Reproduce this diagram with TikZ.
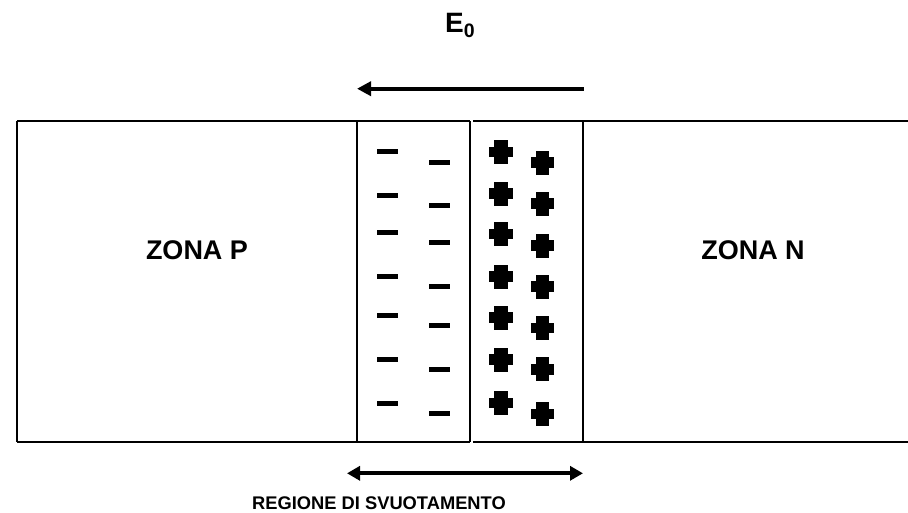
\documentclass[tikz,border=0pt]{standalone}
\usepackage{fontspec}
\setmainfont{Liberation Sans}
\usetikzlibrary{arrows.meta}
\tikzset{
  frameline/.style={line width=2pt, draw=black},
  fieldarrow/.style={line width=4pt, -{Triangle[length=14pt,width=14pt]}},
  widtharrow/.style={line width=4pt, {Triangle[length=13pt,width=14pt]}-{Triangle[length=13pt,width=14pt]}},
  minusbar/.style={fill=black, draw=none, minimum width=21pt, minimum height=5pt, inner sep=0pt, outer sep=0pt},
  bigtext/.style={inner sep=0pt, font=\fontsize{27}{32}\selectfont\bfseries, anchor=base},
  smalltext/.style={inner sep=0pt, text depth=0pt, font=\fontsize{18.3}{22}\selectfont\bfseries, anchor=base},
  plusmark/.pic={
    \fill[black] (-6.8,-12) rectangle (6.8,12);
    \fill[black] (-11.8,-5.4) rectangle (11.8,5.4);
  }
}
\begin{document}
\begin{tikzpicture}[x=1pt,y=-1pt]
\useasboundingbox (0,0) rectangle (908,512);
% frame
\coordinate (tl) at (16.8,121);
\coordinate (bl) at (16.8,442);
\coordinate (tm) at (470,121);
\coordinate (bm) at (470,442);
\coordinate (tn) at (473,121);
\coordinate (bn) at (473,442);
\coordinate (tr) at (908,121);
\coordinate (br) at (908,442);
\coordinate (tp) at (357,121);
\coordinate (bp) at (357,442);
\coordinate (tq) at (583.3,121);
\coordinate (bq) at (583.3,442);
\draw[frameline] (tl) -- (tm);
\draw[frameline] (bl) -- (bm);
\draw[frameline] (tn) -- (tr);
\draw[frameline] (bn) -- (br);
\draw[frameline] (tl) -- (bl);
\draw[frameline] (tp) -- (bp);
\draw[frameline] (tm) -- (bm);
\draw[frameline] (tq) -- (bq);
% labels
\node[bigtext] (zp) at (197,259.5) {ZONA P};
\node[bigtext] (zn) at (753,259.5) {ZONA N};
\node[smalltext] (reg) at (379,509.5) {REGIONE DI SVUOTAMENTO};
\node[inner sep=0pt, anchor=base west, font=\fontsize{28}{32}\selectfont\bfseries] (e0) at (445,32) {E\raisebox{-5pt}{\fontsize{19.5}{22}\selectfont 0}};
% arrows
\coordinate (fa) at (583.5,88.7);
\coordinate (fb) at (357,88.7);
\draw[fieldarrow] (fa) -- (fb);
\coordinate (wa) at (347,473.3);
\coordinate (wb) at (583,473.3);
\draw[widtharrow] (wa) -- (wb);
% minus charges
\foreach \y [count=\i] in {151.5,195.5,232.7,276,315.5,359,403} {
  \node[minusbar] (ma\i) at (387.5,\y) {};
}
\foreach \y [count=\i] in {162.5,205.5,242.7,286.3,325.5,369.7,413} {
  \node[minusbar] (mb\i) at (439,\y) {};
}
% plus charges
\foreach \y in {152,193.5,234,276.5,317.7,359.7,403} {
  \pic at (501,\y) {plusmark};
}
\foreach \y in {162.5,203.5,245.5,286.7,328,369.3,414} {
  \pic at (542.5,\y) {plusmark};
}
\end{tikzpicture}
\end{document}
